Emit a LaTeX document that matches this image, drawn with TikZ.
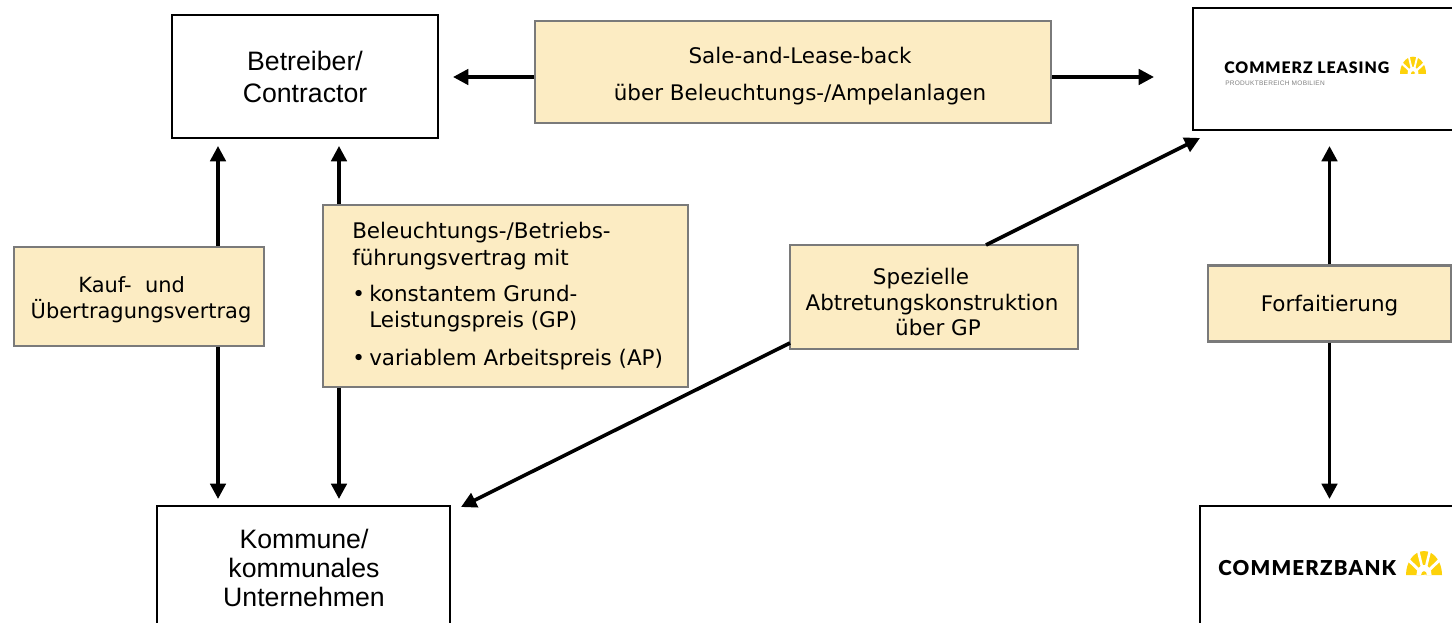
\documentclass[tikz,border=0pt]{standalone}
\usepackage{fontspec}
\setmainfont{DejaVu Sans}
\newfontfamily\arialfont{Liberation Sans}
\newfontfamily\logofont[LetterSpace=6]{Lato Black}
\newfontfamily\logosub[LetterSpace=4]{Liberation Sans}
\usetikzlibrary{arrows.meta,calc}
\definecolor{beige}{HTML}{FCECC3}
\definecolor{randgrau}{HTML}{7A7A7A}
\definecolor{logogelb}{HTML}{FDD20A}
\newcommand\runter[2]{\raisebox{-#1}[\height][\depth]{\begin{tabular}{@{}c@{}}#2\end{tabular}}}
\tikzset{
 partei/.style={draw=black,line width=1.5pt,fill=white,inner sep=0pt},
 vertrag/.style={draw=randgrau,line width=1.7pt,fill=beige,inner sep=0pt,font=\fontsize{16.1}{18.8}\selectfont},
 pfeil/.style={line width=2.7pt,-{Triangle[length=11.5pt,width=11.5pt]}},
 voll/.style={font=\arialfont\fontsize{20}{24}\selectfont,align=center},
 faecher/.pic={
  \fill[logogelb] (-1,0) arc (180:0:1) -- cycle;
  \foreach \a in {36,72,108,144}{
   \fill[white,rotate=\a] (0,-0.07) rectangle (1.1,0.07);}
  \fill[white] (-0.42,0) arc (180:0:0.42) -- cycle;
  \fill[logogelb] (-0.16,0) arc (180:0:0.16) -- (0.16,0.02) -- cycle;
 }
}
\begin{document}
\begin{tikzpicture}[x=0.75pt,y=-0.75pt]
\useasboundingbox (0,0) rectangle (1452,623);
% Vertragsparteien
\node[partei,minimum height=92.2pt,minimum width=199.5pt,voll] (betreiber) at (305,76.5){Betreiber/\\Contractor};
\node[partei,minimum height=91.5pt,minimum width=220pt] (leasing) at (1340,69){};
\node[partei,minimum height=150pt,minimum width=219.8pt] (kommune) at (303.5,606){};
\node[partei,minimum height=150pt,minimum width=220pt] (bank) at (1346.5,606){};
\node[voll,font=\arialfont\fontsize{20}{21.75}\selectfont] (kommunetext) at (304,568){Kommune/\\kommunales\\Unternehmen};
% Logos
\node[anchor=west,inner sep=0pt,font=\logofont\fontsize{11.9}{12}\selectfont] (leasinglogo) at (1224,68){COMMERZ LEASING};
\node[anchor=west,inner sep=0pt,text=gray,font=\logosub\fontsize{4.9}{5}\selectfont] (leasingsub) at (1225,83){PRODUKTBEREICH MOBILIEN};
\path (1413,74) pic[x=9.75pt,y=9.75pt,yscale=1.33] {faecher};
\node[anchor=west,inner sep=0pt,font=\logofont\fontsize{15.4}{16}\selectfont] (banklogo) at (1218,568){COMMERZBANK};
\path (1424,575) pic[x=13.5pt,y=13.5pt,yscale=1.33] {faecher};
% Vertraege
\node[vertrag,minimum width=386.5pt,minimum height=76.5pt] (sale) at (793,72){\hspace*{10.5pt}\runter{3.5pt}{Sale-and-Lease-back\\[8.8pt]über Beleuchtungs-/Ampelanlagen}};
\node[vertrag,minimum width=187.5pt,minimum height=74pt,font=\fontsize{15.7}{18}\selectfont] (kauf) at (139,296.5){\hspace*{3pt}\runter{3pt}{Kauf-~~und\hspace*{14pt}\\Übertragungsvertrag}};
\node[vertrag,minimum width=273.5pt,minimum height=136pt] (fuehrung) at (505.5,296){};
\node[anchor=west,inner sep=0pt,align=left,font=\fontsize{16.1}{20}\selectfont] (fuehrungtext) at (352,296){Beleuchtungs-/Betriebs-\\führungsvertrag mit\\[7pt]\makebox[12.75pt][l]{•}konstantem Grund-\\\hspace*{12.75pt}Leistungspreis (GP)\\[8pt]\makebox[12.75pt][l]{•}variablem Arbeitspreis (AP)};
\node[vertrag,minimum width=215.5pt,minimum height=78pt] (abtretung) at (934,297){\runter{6pt}{Spezielle\hspace*{19.5pt}\\Abtretungskonstruktion\hspace*{3pt}\\\hspace*{6pt}über GP}};
\node[vertrag,minimum width=182pt,minimum height=57pt] (forfait) at (1329.5,303.5){\runter{2pt}{Forfaitierung}};
% Pfeile
\coordinate (kx) at (218,0);
\coordinate (fx) at (339,0);
\coordinate (bx) at (1329.5,0);
\coordinate (li) at (453,77);
\coordinate (re) at (1154,77);
\coordinate (dl) at (1200,138);
\coordinate (dr) at (461,507);
\draw[pfeil] (sale.west|-li) -- (li);
\draw[pfeil] (sale.east|-re) -- (re);
\draw[pfeil] (kx|-kauf.north) -- ($(kx|-betreiber.south)+(0,7)$);
\draw[pfeil] (kx|-kauf.south) -- ($(kx|-kommune.north)+(0,-6)$);
\draw[pfeil] (fx|-fuehrung.north) -- ($(fx|-betreiber.south)+(0,7)$);
\draw[pfeil] (fx|-fuehrung.south) -- ($(fx|-kommune.north)+(0,-6)$);
\draw[pfeil] (bx|-forfait.north) -- ($(bx|-leasing.south)+(0,15)$);
\draw[pfeil] (bx|-forfait.south) -- ($(bx|-bank.north)+(0,-6)$);
\draw[pfeil] (986,245) -- (dl);
\draw[pfeil] (790,343) -- (dr);
\end{tikzpicture}
\end{document}
